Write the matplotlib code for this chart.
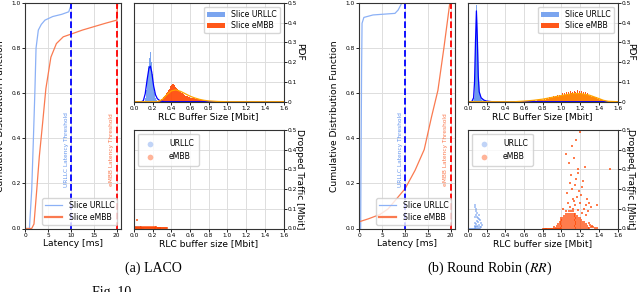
import matplotlib
matplotlib.use('Agg')
import matplotlib.pyplot as plt
import numpy as np

plt.rcParams['mathtext.fontset'] = 'stix'

# ---------------- CDF of latency [ms] ----------------
laco_urllc_lat = [0.0, 0.9, 1.4, 1.76, 2.1, 2.35, 2.85, 3.5, 4.3, 6.0, 8.0, 9.5, 10.0, 10.2, 21.0]
laco_urllc_cdf = [0.0, 0.0, 0.17, 0.39, 0.61, 0.80, 0.88, 0.905, 0.924, 0.94, 0.95, 0.961, 0.99, 1.0, 1.0]
laco_embb_lat = [0.0, 1.4, 1.9, 2.5, 3.07, 3.8, 4.5, 5.6, 6.8, 8.3, 10.0, 12.5, 15.0, 17.5, 20.0, 20.2, 21.0]
laco_embb_cdf = [0.0, 0.0, 0.02, 0.17, 0.32, 0.47, 0.62, 0.76, 0.82, 0.85, 0.862, 0.88, 0.895, 0.91, 0.924, 1.0, 1.0]

rr_urllc_lat = [0.0, 0.3, 0.35, 0.5, 0.6, 1.0, 3.0, 7.8, 8.5, 9.3, 21.0]
rr_urllc_cdf = [0.0, 0.0, 0.2, 0.7, 0.91, 0.936, 0.947, 0.954, 0.969, 1.0, 1.0]
rr_embb_lat = [0.0, 2.0, 4.5, 6.3, 8.5, 10.0, 12.2, 14.2, 15.8, 17.2, 18.5, 19.8, 21.0]
rr_embb_cdf = [0.03, 0.043, 0.062, 0.087, 0.14, 0.176, 0.258, 0.35, 0.495, 0.613, 0.80, 1.0, 1.0]

# ---------------- PDF of RLC buffer size [Mbit] ----------------
# LACO, bins 0.01 Mbit wide (left edges)
laco_urllc_edges = [0.12, 0.13, 0.14, 0.15, 0.16, 0.17, 0.18, 0.19, 0.20, 0.21, 0.22, 0.23, 0.24]
laco_urllc_hist = [0.02, 0.06, 0.12, 0.18, 0.22, 0.25, 0.20, 0.14, 0.09, 0.05, 0.03, 0.02, 0.01]
laco_embb_edges = [0.26, 0.27, 0.28, 0.29, 0.30, 0.31, 0.32, 0.33, 0.34, 0.35, 0.36, 0.37, 0.38, 0.39,
                   0.40, 0.41, 0.42, 0.43, 0.44, 0.45, 0.46, 0.47, 0.48, 0.49, 0.50, 0.51, 0.52, 0.53,
                   0.54, 0.55, 0.56, 0.57, 0.58, 0.59, 0.60, 0.61, 0.62, 0.63, 0.64, 0.65, 0.66, 0.67,
                   0.68, 0.69, 0.70, 0.72, 0.74, 0.76, 0.78, 0.80, 0.82, 0.84]
laco_embb_hist = [0.003, 0.005, 0.008, 0.012, 0.016, 0.022, 0.028, 0.035, 0.042, 0.050, 0.058, 0.066, 0.074, 0.080,
                  0.086, 0.089, 0.088, 0.084, 0.076, 0.070, 0.065, 0.060, 0.055, 0.050, 0.046, 0.042, 0.039, 0.036,
                  0.033, 0.031, 0.029, 0.027, 0.025, 0.023, 0.021, 0.020, 0.019, 0.018, 0.017, 0.016, 0.015, 0.014,
                  0.013, 0.012, 0.011, 0.009, 0.008, 0.006, 0.005, 0.004, 0.003, 0.002]
laco_urllc_kde_x = [0.0, 0.08, 0.10, 0.12, 0.14, 0.16, 0.175, 0.19, 0.21, 0.23, 0.25, 0.28, 0.32, 1.6]
laco_urllc_kde_y = [0.0, 0.0, 0.005, 0.04, 0.11, 0.17, 0.18, 0.15, 0.08, 0.035, 0.015, 0.004, 0.0, 0.0]
laco_embb_kde_x = [0.0, 0.25, 0.30, 0.35, 0.40, 0.45, 0.50, 0.55, 0.60, 0.65, 0.70, 0.75, 0.80, 0.90, 1.0, 1.6]
laco_embb_kde_y = [0.0, 0.0, 0.01, 0.035, 0.055, 0.06, 0.052, 0.04, 0.028, 0.019, 0.012, 0.007, 0.004, 0.001, 0.0, 0.0]

# Round Robin
rr_urllc_edges = [0.05, 0.06, 0.07, 0.08, 0.09, 0.10, 0.11, 0.12, 0.13, 0.14, 0.15, 0.16]
rr_urllc_hist = [0.005, 0.02, 0.08, 0.30, 0.49, 0.30, 0.12, 0.05, 0.02, 0.01, 0.005, 0.003]
rr_embb_edges = [0.56, 0.58, 0.60, 0.62, 0.64, 0.66, 0.68, 0.70, 0.72, 0.74, 0.76, 0.78, 0.80, 0.81, 0.82, 0.83,
                 0.84, 0.85, 0.86, 0.87, 0.88, 0.89, 0.90, 0.91, 0.92, 0.93, 0.94, 0.95, 0.96, 0.97, 0.98, 0.99,
                 1.00, 1.01, 1.02, 1.03, 1.04, 1.05, 1.06, 1.07, 1.08, 1.09, 1.10, 1.11, 1.12, 1.13, 1.14, 1.15,
                 1.16, 1.17, 1.18, 1.19, 1.20, 1.21, 1.22, 1.23, 1.24, 1.25, 1.26, 1.27, 1.28, 1.29, 1.30, 1.31,
                 1.32, 1.33, 1.34, 1.35, 1.36, 1.37, 1.38, 1.39, 1.40, 1.41, 1.42, 1.43, 1.44, 1.45, 1.46, 1.48]
rr_embb_hist = [0.001, 0.002, 0.002, 0.003, 0.005, 0.003, 0.006, 0.007, 0.005, 0.009, 0.008, 0.011, 0.010, 0.015, 0.011, 0.018,
                0.014, 0.020, 0.016, 0.024, 0.018, 0.026, 0.021, 0.029, 0.022, 0.031, 0.024, 0.034, 0.026, 0.036, 0.029, 0.039,
                0.031, 0.042, 0.033, 0.045, 0.036, 0.048, 0.039, 0.050, 0.040, 0.054, 0.042, 0.049, 0.038, 0.056, 0.041, 0.051,
                0.043, 0.058, 0.040, 0.052, 0.044, 0.055, 0.039, 0.050, 0.041, 0.047, 0.035, 0.044, 0.033, 0.040, 0.030, 0.035,
                0.026, 0.031, 0.022, 0.026, 0.018, 0.022, 0.014, 0.017, 0.011, 0.012, 0.008, 0.007, 0.005, 0.004, 0.003, 0.001]
rr_urllc_kde_x = [0.0, 0.04, 0.06, 0.07, 0.08, 0.09, 0.10, 0.11, 0.12, 0.14, 0.17, 0.20, 0.26, 1.6]
rr_urllc_kde_y = [0.0, 0.0, 0.02, 0.10, 0.30, 0.46, 0.32, 0.13, 0.05, 0.02, 0.008, 0.003, 0.0, 0.0]
rr_embb_kde_x = [0.0, 0.50, 0.60, 0.70, 0.80, 0.90, 1.00, 1.10, 1.15, 1.20, 1.30, 1.40, 1.45, 1.50, 1.6]
rr_embb_kde_y = [0.0, 0.0, 0.003, 0.007, 0.013, 0.022, 0.031, 0.039, 0.041, 0.041, 0.033, 0.016, 0.007, 0.002, 0.0]

# ---------------- Dropped traffic vs buffer size ----------------
laco_urllc_drop_x = [0.005, 0.01, 0.02, 0.03, 0.04, 0.05, 0.06, 0.07, 0.08, 0.09, 0.10]
laco_urllc_drop_y = [0.004, 0.006, 0.005, 0.007, 0.004, 0.006, 0.005, 0.004, 0.006, 0.003, 0.002]
laco_embb_drop_x = [0.01, 0.02, 0.03, 0.04, 0.05, 0.06, 0.07, 0.08, 0.09, 0.10, 0.11, 0.12, 0.13, 0.14, 0.15,
                    0.16, 0.17, 0.18, 0.19, 0.20, 0.21, 0.22, 0.23, 0.24, 0.25, 0.26, 0.27, 0.28, 0.29, 0.30,
                    0.31, 0.32, 0.33, 0.34, 0.35, 0.02, 0.04, 0.06, 0.08, 0.10, 0.12, 0.14, 0.16, 0.18, 0.20,
                    0.22, 0.24, 0.26, 0.28, 0.03]
laco_embb_drop_y = [0.002, 0.002, 0.002, 0.002, 0.002, 0.002, 0.002, 0.002, 0.002, 0.002, 0.002, 0.002, 0.002, 0.002, 0.002,
                    0.002, 0.002, 0.002, 0.002, 0.002, 0.002, 0.002, 0.002, 0.002, 0.002, 0.002, 0.002, 0.002, 0.002, 0.002,
                    0.002, 0.002, 0.002, 0.002, 0.002, 0.009, 0.008, 0.009, 0.008, 0.009, 0.008, 0.009, 0.008, 0.007, 0.008,
                    0.007, 0.006, 0.005, 0.004, 0.042]

rr_urllc_drop_x = [0.0, 0.01, 0.02, 0.03, 0.04, 0.05, 0.06, 0.07, 0.08, 0.09, 0.10, 0.11, 0.12, 0.13,
                   0.07, 0.08, 0.09, 0.10, 0.11, 0.12, 0.13, 0.14,
                   0.08, 0.09, 0.10, 0.11, 0.12, 0.14, 0.08, 0.09, 0.11, 0.13, 0.09, 0.10, 0.08, 0.15,
                   0.07, 0.12, 0.10, 0.09]
rr_urllc_drop_y = [0.0, 0.0, 0.0, 0.0, 0.0, 0.0, 0.0, 0.0, 0.0, 0.0, 0.0, 0.0, 0.0, 0.0,
                   0.01, 0.012, 0.008, 0.015, 0.01, 0.02, 0.006, 0.01,
                   0.03, 0.025, 0.04, 0.035, 0.05, 0.03, 0.06, 0.07, 0.055, 0.045, 0.09, 0.08, 0.12, 0.02,
                   0.11, 0.07, 0.06, 0.10]
rr_embb_drop_x = [0.80, 0.81, 0.82, 0.83, 0.84, 0.85, 0.86, 0.87, 0.88, 0.89, 0.90, 0.91, 0.92, 0.93, 0.94, 0.95, 0.96, 0.97, 0.98, 0.99,
                  0.94, 0.96, 0.98, 1.00, 1.02, 1.04, 1.06, 1.08, 1.10, 1.12, 1.14, 1.16, 1.18, 1.20, 1.22, 1.24, 1.26, 1.28, 1.30,
                  0.95, 0.97, 0.99, 1.01, 1.03, 1.05, 1.07, 1.09, 1.11, 1.13, 1.15, 1.17, 1.19, 1.21, 1.23, 1.25, 1.27,
                  0.96, 0.98, 1.00, 1.02, 1.04, 1.06, 1.08, 1.10, 1.12, 1.14, 1.16, 1.18, 1.20, 1.22, 1.24, 1.26,
                  0.98, 1.00, 1.02, 1.04, 1.06, 1.08, 1.10, 1.12, 1.14, 1.16, 1.18, 1.20, 1.22, 1.24,
                  0.99, 1.01, 1.03, 1.05, 1.07, 1.09, 1.11, 1.13, 1.15, 1.17, 1.19, 1.21,
                  1.00, 1.02, 1.04, 1.06, 1.08, 1.10, 1.12, 1.14, 1.16, 1.18, 1.20,
                  1.03, 1.05, 1.07, 1.09, 1.11, 1.13, 1.15, 1.17,
                  1.05, 1.07, 1.09, 1.11, 1.13, 1.15,
                  1.08, 1.10, 1.12,
                  1.32, 1.34, 1.29, 1.36, 1.31, 0.92, 1.33, 1.38,
                  1.05, 1.12, 1.18, 1.22, 1.09, 1.15, 1.20, 1.26, 1.13, 1.17, 1.07, 1.24, 1.19, 1.28, 1.11,
                  1.14, 1.21, 1.16, 1.30, 1.10, 1.23, 1.18, 1.08, 1.25, 1.13, 1.38, 1.02, 1.27, 1.32, 1.06,
                  1.16, 1.11, 1.20, 1.05, 1.52, 1.18, 1.12, 1.22, 1.09, 1.26]
rr_embb_drop_y = [0.0, 0.0, 0.0, 0.0, 0.0, 0.0, 0.0, 0.0, 0.0, 0.0, 0.0, 0.0, 0.0, 0.0, 0.0, 0.0, 0.0, 0.0, 0.0, 0.0,
                  0.005, 0.005, 0.005, 0.005, 0.005, 0.005, 0.005, 0.005, 0.005, 0.005, 0.005, 0.005, 0.005, 0.005, 0.005, 0.005, 0.005, 0.005, 0.005,
                  0.015, 0.015, 0.015, 0.015, 0.015, 0.015, 0.015, 0.015, 0.015, 0.015, 0.015, 0.015, 0.015, 0.015, 0.015, 0.015, 0.015,
                  0.025, 0.025, 0.025, 0.025, 0.025, 0.025, 0.025, 0.025, 0.025, 0.025, 0.025, 0.025, 0.025, 0.025, 0.025, 0.025,
                  0.035, 0.035, 0.035, 0.035, 0.035, 0.035, 0.035, 0.035, 0.035, 0.035, 0.035, 0.035, 0.035, 0.035,
                  0.045, 0.045, 0.045, 0.045, 0.045, 0.045, 0.045, 0.045, 0.045, 0.045, 0.045, 0.045,
                  0.055, 0.055, 0.055, 0.055, 0.055, 0.055, 0.055, 0.055, 0.055, 0.055, 0.055,
                  0.065, 0.065, 0.065, 0.065, 0.065, 0.065, 0.065, 0.065,
                  0.075, 0.075, 0.075, 0.075, 0.075, 0.075,
                  0.088, 0.088, 0.088,
                  0.01, 0.006, 0.03, 0.004, 0.02, 0.008, 0.015, 0.005,
                  0.09, 0.10, 0.095, 0.08, 0.11, 0.12, 0.13, 0.07, 0.14, 0.16, 0.13, 0.10, 0.19, 0.09, 0.20,
                  0.22, 0.17, 0.25, 0.13, 0.27, 0.24, 0.30, 0.33, 0.31, 0.36, 0.12, 0.10, 0.15, 0.11, 0.18,
                  0.45, 0.42, 0.49, 0.38, 0.30, 0.28, 0.15, 0.21, 0.23, 0.12]

c_urllc_line = '#8cb1f6'
c_embb_line = '#fa7a50'
c_urllc_bar = 'cornflowerblue'
c_embb_bar = 'orangered'

fig = plt.figure(figsize=(6.4, 2.92), dpi=100)
W, H = 640.0, 292.0


def box(x0, x1, y0, y1):
    return [x0 / W, 1 - y1 / H, (x1 - x0) / W, (y1 - y0) / H]


tick_fs = 4.2
lab_fs = 6.6


def style(ax):
    ax.grid(True, color='#dddddd', linewidth=0.7)
    ax.set_axisbelow(True)
    ax.tick_params(labelsize=tick_fs, length=2, width=0.6, pad=1)
    for s in ax.spines.values():
        s.set_linewidth(0.8)
        s.set_color('#333333')


def draw_panel(dx, rlab, u_lat, u_cdf, e_lat, e_cdf,
               u_edges, u_hist, e_edges, e_hist, ukx, uky, ekx, eky, fill_kde,
               udx, udy, edx, edy):
    # CDF
    ax = fig.add_axes(box(25.3 + dx, 121.3 + dx, 3, 228.5))
    style(ax)
    ax.plot(u_lat, u_cdf, color=c_urllc_line, lw=0.9, label='Slice URLLC')
    ax.plot(e_lat, e_cdf, color=c_embb_line, lw=0.9, label='Slice eMBB')
    ax.axvline(10, color='blue', ls='--', lw=1.3)
    ax.axvline(20, color='red', ls='--', lw=1.3)
    ax.text(9.1, 0.35, 'URLLC Latency Threshold', rotation=90, fontsize=4.2,
            color='cornflowerblue', ha='center', va='center')
    ax.text(18.9, 0.35, 'eMBB Latency Threshold', rotation=90, fontsize=4.2,
            color=c_embb_line, ha='center', va='center')
    ax.set_xlim(0, 21)
    ax.set_ylim(0, 1.0)
    ax.set_xticks([0, 5, 10, 15, 20])
    ax.set_yticks([0.0, 0.2, 0.4, 0.6, 0.8, 1.0])
    ax.set_xlabel('Latency [ms]', fontsize=lab_fs, labelpad=1)
    ax.set_ylabel('Cumulative Distribution Function', fontsize=lab_fs)
    ax.yaxis.set_label_coords(-0.21, 0.5)
    leg = ax.legend(loc='lower right', fontsize=5.6, borderpad=0.4, handlelength=2.2,
                    labelspacing=0.3, framealpha=0.8, edgecolor='#cccccc')
    leg.get_lines()[1].set_linewidth(1.6)

    # PDF
    ax = fig.add_axes(box(134 + dx, 283.5 + dx, 3, 101.7))
    style(ax)
    ax.bar(u_edges, u_hist, width=0.01, align='edge', color=c_urllc_bar, alpha=0.85,
           lw=0, label='Slice URLLC')
    ax.bar(e_edges, e_hist, width=np.diff(list(e_edges) + [e_edges[-1] + 0.01]), align='edge',
           color=c_embb_bar, alpha=0.9, lw=0, label='Slice eMBB')
    if fill_kde:
        ax.fill_between(ukx, uky, color=c_urllc_bar, alpha=0.6, lw=0)
        ax.fill_between(ekx, eky, color='orange', alpha=0.6, lw=0, zorder=1)
    ax.plot(ukx, uky, color='blue', lw=0.9)
    ax.plot(ekx, eky, color='orange', lw=0.9)
    ax.set_xlim(0, 1.6)
    ax.set_ylim(0, 0.5)
    ax.set_xticks(np.arange(0, 1.61, 0.2))
    ax.set_yticks([0, 0.1, 0.2, 0.3, 0.4, 0.5])
    ax.set_yticklabels(['0', '0.1', '0.2', '0.3', '0.4', '0.5'])
    ax.yaxis.tick_right()
    ax.yaxis.set_label_position('right')
    ax.set_xlabel('RLC Buffer Size [Mbit]', fontsize=lab_fs, labelpad=1)
    ax.set_ylabel('PDF', fontsize=lab_fs, rotation=270)
    ax.yaxis.set_label_coords(rlab, 0.5)
    ax.legend(loc='upper right', fontsize=5.6, borderpad=0.4, labelspacing=0.3,
              handlelength=2.2, framealpha=0.8, edgecolor='#cccccc')

    # Dropped traffic
    ax = fig.add_axes(box(134 + dx, 283.5 + dx, 130, 228.5))
    style(ax)
    ax.scatter(udx, udy, s=2.5, marker='s', color=c_urllc_bar, alpha=0.5, lw=0, label='URLLC')
    ax.scatter(edx, edy, s=2.5, marker='s', color=c_embb_bar, alpha=0.7, lw=0, label='eMBB')
    ax.set_xlim(0, 1.6)
    ax.set_ylim(0, 0.5)
    ax.set_xticks(np.arange(0, 1.61, 0.2))
    ax.set_yticks([0.0, 0.1, 0.2, 0.3, 0.4, 0.5])
    ax.yaxis.tick_right()
    ax.yaxis.set_label_position('right')
    ax.set_xlabel('RLC buffer size [Mbit]', fontsize=lab_fs, labelpad=1)
    ax.set_ylabel('Dropped Traffic [Mbit]', fontsize=lab_fs, rotation=270)
    ax.yaxis.set_label_coords(rlab, 0.5)
    leg = ax.legend(loc='upper left', fontsize=5.6, markerscale=1.3, borderpad=0.6,
                    labelspacing=0.6, handletextpad=1.4, framealpha=0.8, edgecolor='#cccccc')
    for h in leg.legend_handles:
        h.set_paths([matplotlib.path.Path.unit_circle()])
        h.set_alpha(0.4)


draw_panel(0, 1.137, laco_urllc_lat, laco_urllc_cdf, laco_embb_lat, laco_embb_cdf,
           laco_urllc_edges, laco_urllc_hist, laco_embb_edges, laco_embb_hist,
           laco_urllc_kde_x, laco_urllc_kde_y, laco_embb_kde_x, laco_embb_kde_y, False,
           laco_urllc_drop_x, laco_urllc_drop_y, laco_embb_drop_x, laco_embb_drop_y)
draw_panel(334, 1.115, rr_urllc_lat, rr_urllc_cdf, rr_embb_lat, rr_embb_cdf,
           rr_urllc_edges, rr_urllc_hist, rr_embb_edges, rr_embb_hist,
           rr_urllc_kde_x, rr_urllc_kde_y, rr_embb_kde_x, rr_embb_kde_y, True,
           rr_urllc_drop_x, rr_urllc_drop_y, rr_embb_drop_x, rr_embb_drop_y)

cap = dict(family='Liberation Serif', fontsize=10, ha='center', va='center')
fig.text(153 / W, 1 - 268 / H, '(a) LACO', **cap)
fig.text(490 / W, 1 - 268 / H, '(b) Round Robin ($RR$)', **cap)
fig.text(112 / W, 1 - 286 / H, 'Fig. 10', family='Liberation Serif', fontsize=10,
         ha='center', va='top')

fig.savefig('out.png', dpi=100)
